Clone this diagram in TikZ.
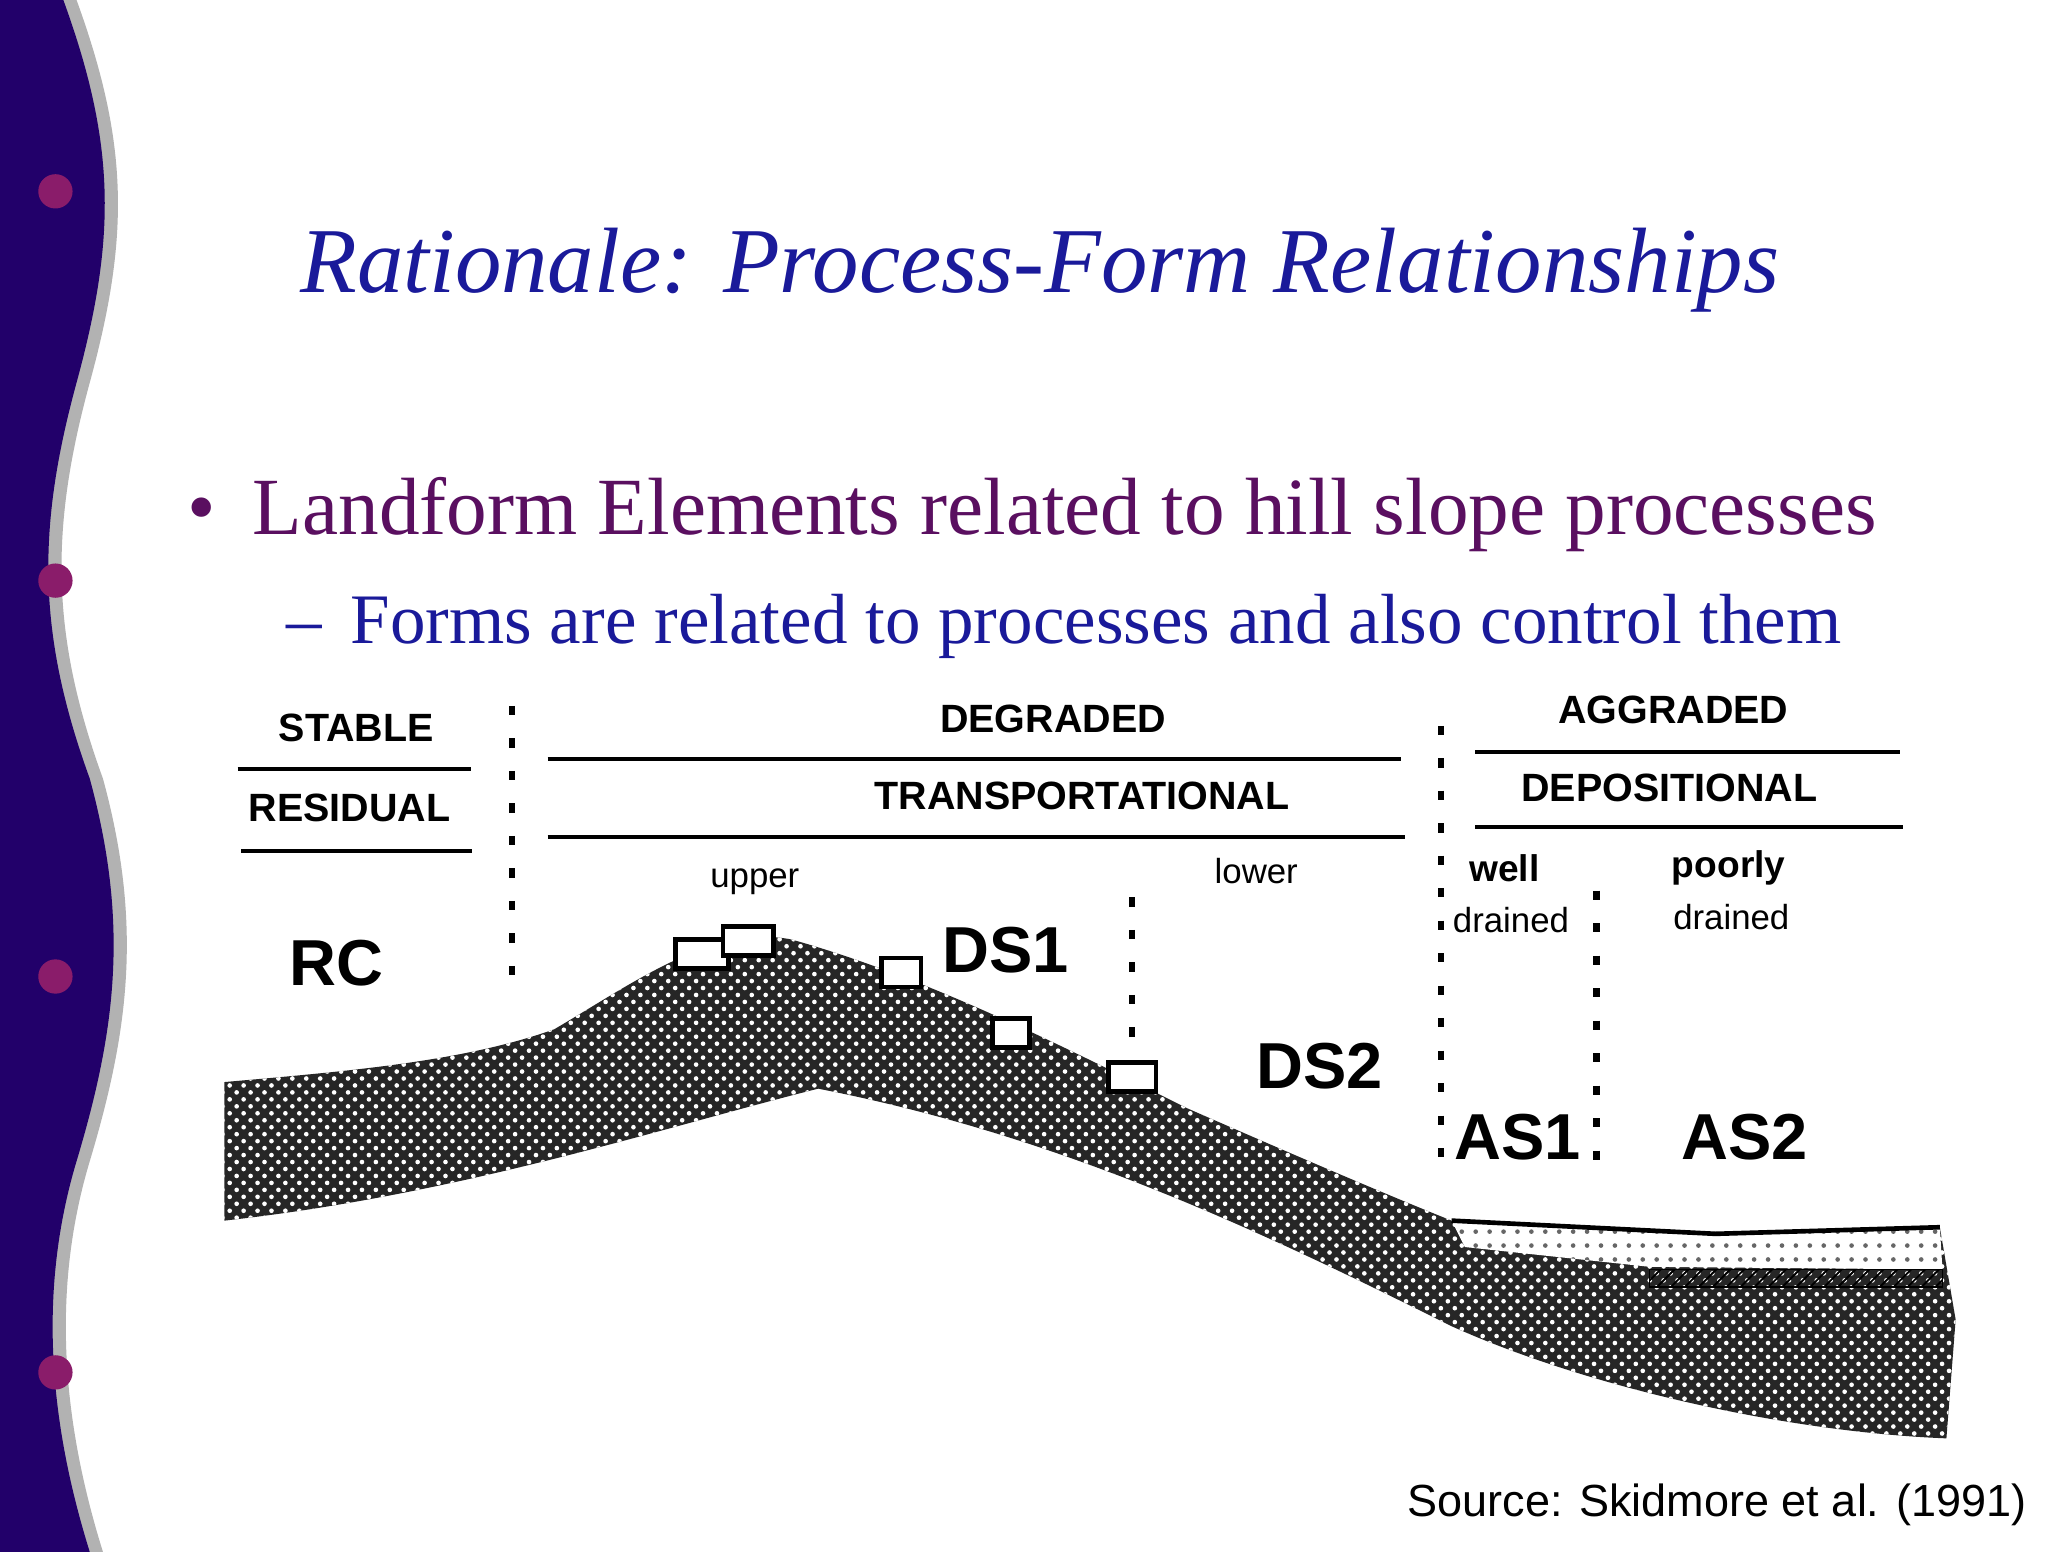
\documentclass[tikz,border=0pt]{standalone}
\usepackage{fontspec}
\setmainfont{Liberation Serif}
\setsansfont{Liberation Sans}
\usetikzlibrary{patterns}
\definecolor{band}{HTML}{22006A}
\definecolor{dotc}{HTML}{8A1C6A}
\definecolor{titc}{HTML}{1A1A9A}
\definecolor{bulc}{HTML}{5A0F60}
\begin{document}
\begin{tikzpicture}[x=0.01cm,y=-0.01cm,
  hdr/.style={font=\sffamily\bfseries\fontsize{8.5}{10}\selectfont},
  big/.style={font=\sffamily\bfseries\fontsize{14}{16}\selectfont},
  sm/.style={font=\sffamily\fontsize{7.5}{9}\selectfont},
  hl/.style={line width=0.9pt},
  vd/.style={line width=1.4pt,dash pattern=on 2pt off 5pt}]
\useasboundingbox (0,0) rectangle (1552,1176);
\fill[white] (0,0) rectangle (1552,1176);
% left band
\fill[gray!60] (0,0) -- (58,0) .. controls (98,110) and (98,180) .. (68,290) .. controls (38,400) and (38,480) .. (78,590) .. controls (108,700) and (98,780) .. (68,880) .. controls (38,980) and (48,1080) .. (78,1176) -- (0,1176) -- cycle;
\fill[band] (0,0) -- (48,0) .. controls (88,110) and (88,180) .. (58,290) .. controls (28,400) and (28,480) .. (68,590) .. controls (98,700) and (88,780) .. (58,880) .. controls (28,980) and (38,1080) .. (68,1176) -- (0,1176) -- cycle;
\foreach \y/\n in {145/a,440/b,740/c,1040/d} \fill[dotc] (42,\y) circle (13) coordinate (dot\n);
% title
\node[titc,font=\itshape\fontsize{20}{24}\selectfont] (title) at (788,205) {Rationale: Process-Form Relationships};
\node[bulc,anchor=west,font=\fontsize{17.5}{22}\selectfont] (b1) at (130,390) {•\hspace{0.45em}Landform Elements related to hill slope processes};
\node[titc,anchor=west,font=\fontsize{15.3}{19}\selectfont] (b2) at (205,475) {–\hspace{0.4em}Forms are related to processes and also control them};
% terrain
\def\terr{(170,820) .. controls (260,812) and (350,805) .. (420,780) .. controls (480,745) and (540,700) .. (600,712)
  .. controls (700,740) and (800,790) .. (900,840) .. controls (980,875) and (1050,905) .. (1100,925)
  -- (1300,935) -- (1470,930) -- (1482,1000) -- (1475,1090) .. controls (1350,1085) and (1200,1050) .. (1100,1005)
  .. controls (950,930) and (800,860) .. (620,825) .. controls (500,855) and (350,905) .. (170,925) -- cycle}
\fill[black!85] \terr;
\fill[pattern=crosshatch dots,pattern color=white] \terr;
\fill[white] (1100,925) -- (1300,935) -- (1470,930) -- (1472,962) -- (1250,960) -- (1110,945) -- cycle;
\fill[pattern=dots,pattern color=black!60] (1100,925) -- (1300,935) -- (1470,930) -- (1472,962) -- (1250,960) -- (1110,945) -- cycle;
\draw[line width=1pt] (1100,925) -- (1300,935) -- (1470,930);
\draw[pattern=north east lines] (1250,962) rectangle (1472,975);
% boulders
\foreach \x/\y/\w in {512/712/40,548/702/38,668/726/30,752/772/28,840/805/36}
  \draw[fill=white,line width=1pt] (\x,\y) rectangle ++(\w,22);
% headers
\node[hdr] (stable) at (270,552) {STABLE};
\node[hdr] (resid) at (265,612) {RESIDUAL};
\node[hdr] (degr) at (798,545) {DEGRADED};
\node[hdr] (trans) at (820,603) {TRANSPORTATIONAL};
\node[hdr] (aggr) at (1268,538) {AGGRADED};
\node[hdr] (depo) at (1265,597) {DEPOSITIONAL};
\draw[hl] (180,583) -- (357,583); \draw[hl] (183,645) -- (358,645);
\draw[hl] (415,575) -- (1062,575); \draw[hl] (415,634) -- (1065,634);
\draw[hl] (1118,570) -- (1440,570); \draw[hl] (1118,627) -- (1442,627);
\draw[vd] (388,535) -- (388,750); \draw[vd] (858,680) -- (858,790);
\draw[vd] (1092,550) -- (1092,890); \draw[vd] (1210,675) -- (1210,890);
\node[sm] (up) at (572,668) {upper};
\node[sm] (lo) at (952,660) {lower};
\node[sm,font=\sffamily\bfseries\fontsize{8}{9}\selectfont] (well) at (1140,658) {well};
\node[sm] (dr1) at (1145,697) {drained};
\node[sm,font=\sffamily\bfseries\fontsize{8}{9}\selectfont] (poor) at (1310,658) {poorly};
\node[sm] (dr2) at (1312,695) {drained};
\node[big] (rc) at (255,730) {RC};
\node[big] (ds1) at (762,720) {DS1};
\node[big] (ds2) at (1000,808) {DS2};
\node[big] (as1) at (1150,862) {AS1};
\node[big] (as2) at (1322,862) {AS2};
\node[font=\sffamily\fontsize{9.7}{12}\selectfont,anchor=east] (src) at (1548,1140) {Source: Skidmore et al. (1991)};
\end{tikzpicture}
\end{document}
